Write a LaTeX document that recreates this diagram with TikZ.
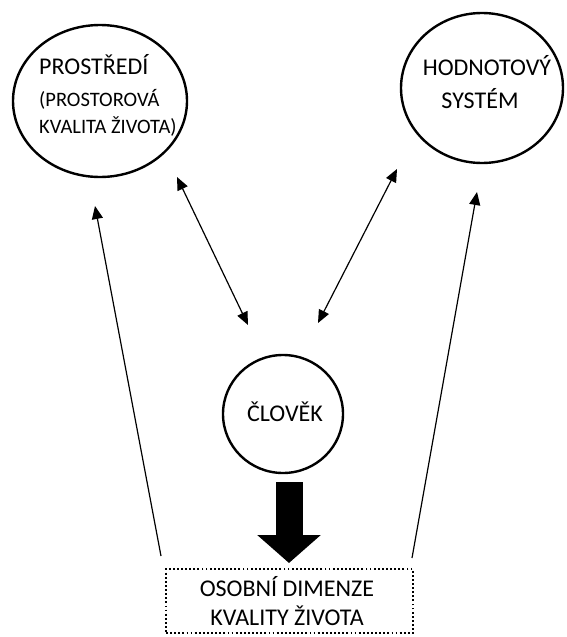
\documentclass[tikz,border=0pt]{standalone}
\usepackage{fontspec}
\setmainfont{Carlito}
\usetikzlibrary{arrows.meta,shapes.geometric}
\begin{document}
\begin{tikzpicture}[x=1pt,y=-1pt,
  bubble/.style={draw, line width=2.4pt, ellipse, inner sep=0pt},
  big/.style={font=\fontsize{24}{28}\selectfont, inner sep=0pt},
  small/.style={font=\fontsize{20.5}{24}\selectfont, inner sep=0pt},
  thin/.style={line width=1.2pt, {Triangle[length=13pt,width=11pt]}-{Triangle[length=13pt,width=11pt]}},
  single/.style={line width=1.2pt, -{Triangle[length=13pt,width=11pt]}},
  dotbox/.style={draw, line width=1.9pt, dash pattern=on 1.8pt off 2.3pt, inner sep=0pt, minimum width=247pt, minimum height=64pt}
]
\useasboundingbox (0,0) rectangle (567,637);

% ellipses
\node[bubble, minimum width=174pt, minimum height=152pt] (env) at (100,101) {};
\node[bubble, minimum width=162pt, minimum height=150pt] (val) at (482,88) {};
\node[bubble, minimum width=120pt, minimum height=118pt] (man) at (283,414) {};
\node[dotbox] (box) at (289.5,601) {};

% texts
\node[big, anchor=base west] (t1) at (39,74) {PROSTŘEDÍ};
\node[small, anchor=base west] (t2) at (39,106.5) {(PROSTOROVÁ};
\node[small, anchor=base west] (t3) at (39,133.5) {KVALITA ŽIVOTA)};
\node[big, anchor=base] (t4) at (487,75) {HODNOTOVÝ};
\node[big, anchor=base] (t5) at (480,108) {SYSTÉM};
\node[big, anchor=base] (t6) at (285,421) {ČLOVĚK};
\node[big, anchor=base] (t7) at (287,596) {OSOBNÍ DIMENZE};
\node[big, anchor=base] (t8) at (287,625) {KVALITY ŽIVOTA};

% arrow end points
\coordinate (a1) at (177,177);
\coordinate (a2) at (248,325);
\coordinate (b1) at (397,169);
\coordinate (b2) at (318,323);
\coordinate (c1) at (161,556);
\coordinate (c2) at (95,206);
\coordinate (d1) at (412,558);
\coordinate (d2) at (477,192);
\coordinate (e1) at (289,482);
\coordinate (e2) at (289,563);

\draw[thin] (a1) -- (a2);
\draw[thin] (b1) -- (b2);
\draw[single] (c1) -- (c2);
\draw[single] (d1) -- (d2);
\draw[line width=27pt, -{Triangle[length=28pt,width=62pt]}] (e1) -- (e2);
\end{tikzpicture}
\end{document}
